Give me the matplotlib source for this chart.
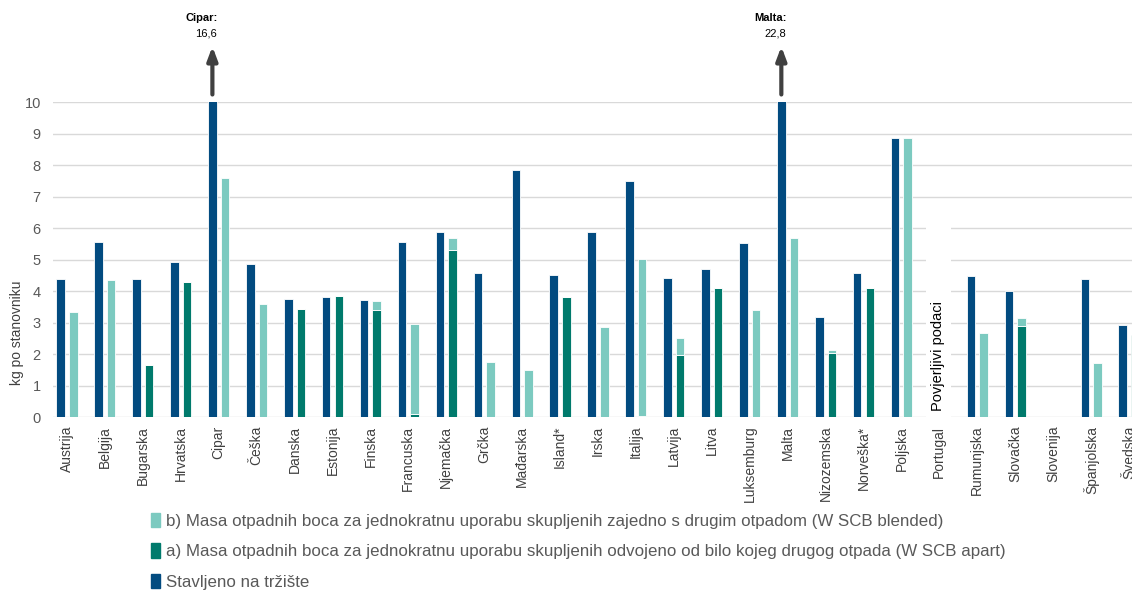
import numpy as np
import matplotlib
matplotlib.use("Agg")
import matplotlib.pyplot as plt
import matplotlib.transforms as mtransforms
from matplotlib.patches import Patch, Rectangle

plt.rcParams['font.family'] = ['Liberation Sans', 'DejaVu Sans']

# ---- data (kg po stanovniku) ----
countries = ['Austrija', 'Belgija', 'Bugarska', 'Hrvatska', 'Cipar', 'Češka', 'Danska',
             'Estonija', 'Finska', 'Francuska', 'Njemačka', 'Grčka', 'Mađarska', 'Island*',
             'Irska', 'Italija', 'Latvija', 'Litva', 'Luksemburg', 'Malta', 'Nizozemska',
             'Norveška*', 'Poljska', 'Portugal', 'Rumunjska', 'Slovačka', 'Slovenija',
             'Španjolska', 'Švedska']

placed = [4.39, 5.57, 4.38, 4.94, 16.6, 4.86, 3.76, 3.83, 3.72, 5.56, 5.87, 4.59, 7.85, 4.51,
          5.89, 7.51, 4.43, 4.71, 5.53, 22.8, 3.19, 4.58, 8.85, np.nan, 4.48, 4.01, np.nan,
          4.39, 2.93]

apart = [0, 0, 1.67, 4.29, 0, 0, 3.45, 3.85, 3.41, 0.11, 5.32, 0, 0, 3.81,
         0, 0.06, 1.99, 4.10, 0.02, 0, 2.04, 4.09, 0, np.nan, 0, 2.90, np.nan,
         0, 2.63]

blended = [3.33, 4.37, 0, 0, 7.58, 3.60, 0, 0, 0.27, 2.85, 0.38, 1.76, 1.50, 0,
           2.86, 4.96, 0.53, 0, 3.39, 5.70, 0.11, 0, 8.85, np.nan, 2.69, 0.26, np.nan,
           1.73, 0]

# values above the axis limit, shown with arrows
capped = {'Cipar': 16.6, 'Malta': 22.8}

c_placed = '#024B80'
c_apart = '#007A6C'
c_blended = '#7CCAC0'

x = np.arange(len(countries))
w = 0.225
off = 0.166

fig = plt.figure(figsize=(11.32, 5.91), dpi=100)
ax = fig.add_axes([0.0471, 0.2936, 0.967, 0.5338])

ax.bar(x - off, placed, w, color=c_placed, edgecolor='white', linewidth=0.6, zorder=2)
ax.bar(x + off, apart, w, color=c_apart, edgecolor='white', linewidth=0.6, zorder=2)
ax.bar(x + off, blended, w, bottom=apart, color=c_blended, edgecolor='white',
       linewidth=0.6, zorder=2)

ax.set_ylim(0, 10)
ax.set_xlim(-0.36, 28.5)
ax.set_yticks(range(0, 11))
ax.set_axisbelow(True)
ax.grid(axis='y', color='#D9D9D9', linewidth=1.0)
for s in ax.spines.values():
    s.set_visible(False)
ax.tick_params(length=0)
ax.tick_params(axis='y', labelsize=10.5, labelcolor='#595959', pad=9)

ax.set_xticks(x)
ax.set_xticklabels(countries, rotation=90, fontsize=10, color='#404040')
shift = mtransforms.ScaledTranslation(-6 / 72, 0, fig.dpi_scale_trans)
for lbl in ax.get_xticklabels():
    lbl.set_transform(lbl.get_transform() + shift)
ax.tick_params(axis='x', pad=6)

ax.set_ylabel('kg po stanovniku', fontsize=10, color='#404040')
ax.yaxis.set_label_coords(-0.027, 0.27)

# Portugal: confidential data
i_pt = countries.index('Portugal')
ax.add_patch(Rectangle((i_pt - 0.34, -0.1), 0.64, 6.7, facecolor='white',
                       edgecolor='none', zorder=1, clip_on=False))
ax.text(i_pt - 0.03, 0.22, 'Povjerljivi podaci', rotation=90, ha='center', va='bottom',
        fontsize=10.5, color='black', zorder=3)

# arrows for values off the scale
for name, val in capped.items():
    i = countries.index(name)
    ax.annotate('', xy=(i - off, 11.85), xytext=(i - off, 10.15),
                arrowprops=dict(arrowstyle='-|>,head_width=0.3,head_length=0.8',
                                color='#404040', lw=3), annotation_clip=False)
    ax.text(i - off + 0.15, 12.67, name + ':', ha='right', va='center', fontsize=8,
            fontweight='bold', color='black', clip_on=False)
    ax.text(i - off + 0.12, 12.17, f'{val:.1f}'.replace('.', ','), ha='right', va='center',
            fontsize=8, color='black', clip_on=False)

handles = [Patch(color=c_blended), Patch(color=c_apart), Patch(color=c_placed)]
labels = ['b) Masa otpadnih boca za jednokratnu uporabu skupljenih zajedno s drugim otpadom (W SCB blended)',
          'a) Masa otpadnih boca za jednokratnu uporabu skupljenih odvojeno od bilo kojeg drugog otpada (W SCB apart)',
          'Stavljeno na tržište']
leg = fig.legend(handles, labels, loc='upper left', bbox_to_anchor=(0.133, 1 - 513 / 591),
                 frameon=False, fontsize=12.2, handlelength=0.55, handleheight=0.9,
                 handletextpad=0.35, labelspacing=0.86, borderaxespad=0, borderpad=0)
for t in leg.get_texts():
    t.set_color('#595959')

fig.savefig('out.png', dpi=100)
